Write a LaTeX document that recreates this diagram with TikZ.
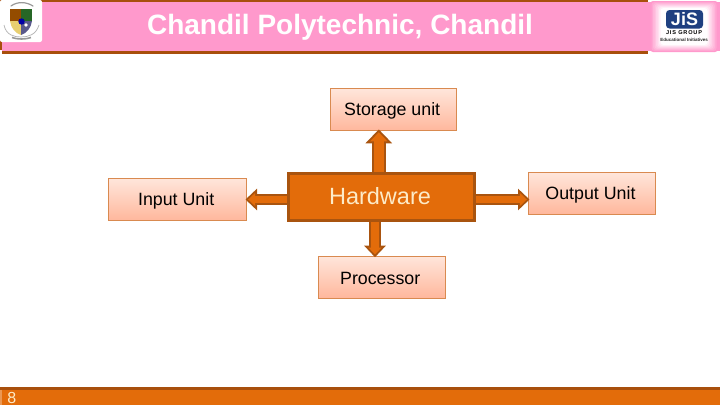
\documentclass[tikz,border=0pt]{standalone}
\usepackage{fontspec}
\setmainfont{Liberation Sans}
\usetikzlibrary{arrows.meta}
\definecolor{bandpink}{HTML}{FF99CC}
\definecolor{bandbrown}{HTML}{A84F0C}
\definecolor{hworange}{HTML}{E36C0A}
\definecolor{hwedge}{HTML}{A9540F}
\definecolor{boxedge}{HTML}{D98A50}
\definecolor{boxtop}{HTML}{FFE6DB}
\definecolor{boxbot}{HTML}{FFB79C}
\definecolor{creamtxt}{HTML}{FDEBC8}
\definecolor{jisblue}{HTML}{1F3F80}
\tikzset{
  x=1pt,y=-1pt,
  unitbox/.style={draw=boxedge,line width=.9pt,top color=boxtop,bottom color=boxbot,anchor=north west,inner sep=0pt,outer sep=0pt,text=black},
  boxlabel/.style={font=\fontsize{17.8}{20}\selectfont,text=black,inner sep=0pt},
  hwbox/.style={draw=hwedge,line width=3pt,fill=hworange,anchor=north west,inner sep=0pt,outer sep=0pt},
  outerA/.style={draw=hwedge,line width=14pt,shorten >=-1.4pt,-{Triangle[length=14pt,width=26pt]}},
  innerA/.style={draw=hworange,line width=10pt,shorten >=1.5pt,-{Triangle[length=9.1pt,width=17pt]}},
  outerB/.style={draw=hwedge,line width=11.5pt,shorten >=-1.2pt,-{Triangle[length=11.5pt,width=21pt]}},
  innerB/.style={draw=hworange,line width=7.6pt,shorten >=1.5pt,-{Triangle[length=7pt,width=12.8pt]}}
}
\begin{document}
\begin{tikzpicture}
\useasboundingbox (0,0) rectangle (720,405);
% header
\fill[bandpink] (2,2) rectangle (720,51);
\fill[bandbrown] (0,0) rectangle (648,2);
\fill[bandbrown] (2,50.5) rectangle (648,53.5);
\fill[bandbrown] (0,2) rectangle (2,50);
\node[anchor=center,font=\bfseries\fontsize{28}{32}\selectfont,text=white,inner sep=0pt] (title) at (340,27) {Chandil Polytechnic, Chandil};
% left crest
\fill[white,rounded corners=2pt] (0,0) rectangle (42,42);
\fill[red!40!black!70!yellow] (10,9) rectangle (21,21);
\fill[green!30!black!85!white] (21,9) rectangle (32,21);
\fill[yellow!45!brown!70!white] (10,21) -- (21,21) -- (21,35) .. controls (15,33) and (11,28) .. (10,21);
\fill[blue!30!black!65!white] (21,21) -- (32,21) .. controls (31,28) and (27,33) .. (21,35) -- cycle;
\fill[blue!65!black] (21.5,21.5) circle (3.2);
\fill[white] (26,25) circle (1.8);
\draw[gray!80,line width=1.2pt,line cap=round] (11,6) .. controls (17,1.5) and (26,1.5) .. (33,6);
\draw[gray!60,line width=.7pt] (4,25) .. controls (6,35) and (14,37) .. (21,37) .. controls (28,37) and (36,35) .. (39,25);
\draw[gray!80,line width=1.6pt] (12,37.5) .. controls (17,39.5) and (26,39.5) .. (31,37.5);
% right logo
\foreach \i in {0,...,7}{
  \pgfmathtruncatemacro{\mix}{100-\i*14}
  \fill[bandpink!\mix!white,rounded corners=3pt] (650+\i*1.5,1+\i*1) rectangle (718-\i*1.5,52-\i*1);
}
\fill[jisblue,rounded corners=3.5pt] (666,10) rectangle (703,28.5);
\node[font=\bfseries\fontsize{18}{18}\selectfont,text=white,inner sep=0pt] (jis) at (684.5,19.5) {JiS};
\node[font=\bfseries\fontsize{5.6}{6}\selectfont,text=black,inner sep=0pt] (grp) at (684,33) {\addfontfeature{LetterSpace=14}JIS GROUP};
\node[font=\bfseries\fontsize{4.5}{5}\selectfont,text=black!85,inner sep=0pt] (edu) at (684,39.5) {Educational Initiatives};
% boxes
\node[unitbox,minimum width=126.4pt,minimum height=42.4pt] (storage) at (330.2,88.4) {};
\node[unitbox,minimum width=138.4pt,minimum height=42.4pt] (input) at (108.3,178.3) {};
\node[unitbox,minimum width=126.7pt,minimum height=42pt] (output) at (528.3,172.3) {};
\node[unitbox,minimum width=126.7pt,minimum height=42.3pt] (proc) at (318.3,256) {};
\node[boxlabel] (storagelabel) at (392.2,110.5) {Storage unit};
\node[boxlabel] (inputlabel) at (176.2,200.5) {Input Unit};
\node[boxlabel] (outputlabel) at (590.5,194.5) {Output Unit};
\node[boxlabel] (proclabel) at (380.2,278) {Processor};
\coordinate (hwc) at (381.5,196.5);
% connectors
\coordinate (upx) at (378.8,0);
\coordinate (lefty) at (0,199.5);
\coordinate (downx) at (375,0);
\draw[outerA] (hwc -| upx) -- (storage.south -| upx);
\draw[innerA] (hwc -| upx) -- (storage.south -| upx);
\draw[outerB] (hwc |- lefty) -- (input.east |- lefty);
\draw[innerB] (hwc |- lefty) -- (input.east |- lefty);
\draw[outerB] (hwc -| downx) -- (proc.north -| downx);
\draw[innerB] (hwc -| downx) -- (proc.north -| downx);
\draw[outerB] (hwc |- lefty) -- (output.west |- lefty);
\draw[innerB] (hwc |- lefty) -- (output.west |- lefty);
\node[hwbox,minimum width=186pt,minimum height=47pt] (hw) at (288.5,173) {};
\node[text=creamtxt,font=\fontsize{23.5}{28}\selectfont,inner sep=0pt] (hwlabel) at (380,196.5) {Hardware};
% footer
\fill[hworange] (0,389) rectangle (720,405);
\fill[bandbrown] (0,387) rectangle (720,389.5);
\fill[hworange!70!white] (0,390) rectangle (2,405);
\node[text=creamtxt,font=\fontsize{16}{18}\selectfont,inner sep=0pt] (pg) at (11.7,397.5) {8};
\end{tikzpicture}
\end{document}
